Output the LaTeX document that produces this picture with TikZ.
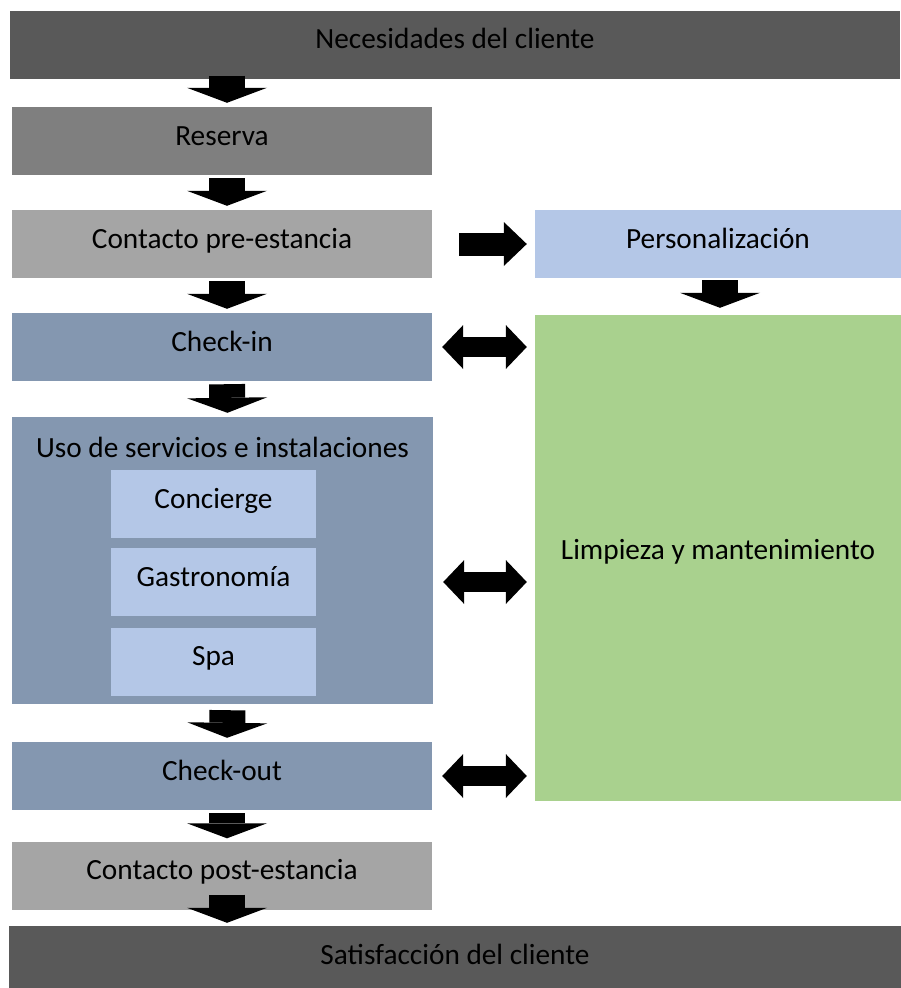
\documentclass[tikz,border=0pt]{standalone}
\usepackage{fontspec}
\setmainfont{Carlito}
\usepackage{xcolor}
\usepackage{tikz}
\usetikzlibrary{arrows.meta}
\definecolor{endG}{HTML}{595959}
\definecolor{resG}{HTML}{7F7F7F}
\definecolor{conG}{HTML}{A5A5A5}
\definecolor{stayB}{HTML}{8497B0}
\definecolor{subB}{HTML}{B4C7E7}
\definecolor{cleanG}{HTML}{A9D18E}

\begin{document}
\begin{tikzpicture}[
  x=1pt, y=-1pt,
  font=\fontsize{29.3}{35}\selectfont,
  box/.style={inner sep=0pt, minimum height=68pt, text height=0.95em, text depth=0.1em},
  stage/.style={box, minimum width=420pt},
  sub/.style={box, fill=subB, minimum width=205pt},
  side/.style={box, minimum width=366pt},
  down/.style={line width=36pt, -{Triangle[width=80pt,length=15pt,line width=0pt]}, shorten >=4pt},
  fwd/.style={line width=23pt, -{Triangle[width=44pt,length=23pt,line width=0pt]}, shorten <=27pt, shorten >=8pt},
  both/.style={line width=20pt, {Triangle[width=44pt,length=21pt,line width=0pt]}-{Triangle[width=44pt,length=21pt,line width=0pt]}, shorten <=10pt, shorten >=8pt}
]
\useasboundingbox (0,0) rectangle (901,988);
\node[box, fill=endG, minimum width=890pt] (nec) at (455,44.5) {Necesidades del cliente};
\node[stage, fill=resG] (res) at (222,141) {Reserva};
\node[stage, fill=conG] (pre) at (222,244) {Contacto pre-estancia};
\node[side, fill=subB] (pers) at (718,244) {Personalización};
\node[stage, fill=stayB] (cin) at (222,347) {Check-in};
\node[side, fill=cleanG, minimum height=486pt, text height=0.6em, text depth=0.33em] (limp) at (718,558) {Limpieza y mantenimiento};
\node[stage, fill=stayB, minimum width=421pt, minimum height=287pt,
  label={[anchor=north, inner sep=0pt, yshift=-20pt]north:Uso de servicios e instalaciones}] (uso) at (222.5,560.5) {};
\node[sub] (conc) at (213.5,504) {Concierge};
\node[sub] (gas) at (213.5,582) {Gastronomía};
\node[sub] (spa) at (213.5,661.5) {Spa};
\node[stage, fill=stayB] (cout) at (222,776) {Check-out};
\node[stage, fill=conG] (post) at (222,875.5) {Contacto post-estancia};
\node[box, fill=endG, minimum width=892pt] (sat) at (455,960) {Satisfacción del cliente};

\draw[down] ([xshift=5pt, yshift=3pt]res.north |- nec.south) -- ([xshift=5pt]res.north);
\draw[down, shorten <=3pt] ([xshift=5pt]res.south) -- ([xshift=5pt]pre.north);
\draw[down, shorten <=3pt] ([xshift=5pt]pre.south) -- ([xshift=5pt]cin.north);
\draw[down, shorten <=3pt] ([xshift=5pt]cin.south) -- ([xshift=5pt]uso.north);
\draw[down, shorten <=6pt] ([xshift=5pt]uso.south) -- ([xshift=5pt]cout.north);
\draw[down, shorten <=3pt, shorten >=3pt] ([xshift=5pt]cout.south) -- ([xshift=5pt]post.north);
\draw[down, shorten >=3pt] ([xshift=5pt, yshift=15pt]post.south) -- ([xshift=5pt]post.south |- sat.north);
\draw[down, shorten <=2pt, shorten >=7pt] ([xshift=2pt]pers.south) -- ([xshift=2pt]limp.north);
\draw[fwd] (pre.east) -- (pers.west);
\draw[both] (cin.east) -- (cin.east -| limp.west);
\draw[both] (uso.east |- gas) -- (limp.west |- gas);
\draw[both] (cout.east) -- (cout.east -| limp.west);
\end{tikzpicture}
\end{document}
